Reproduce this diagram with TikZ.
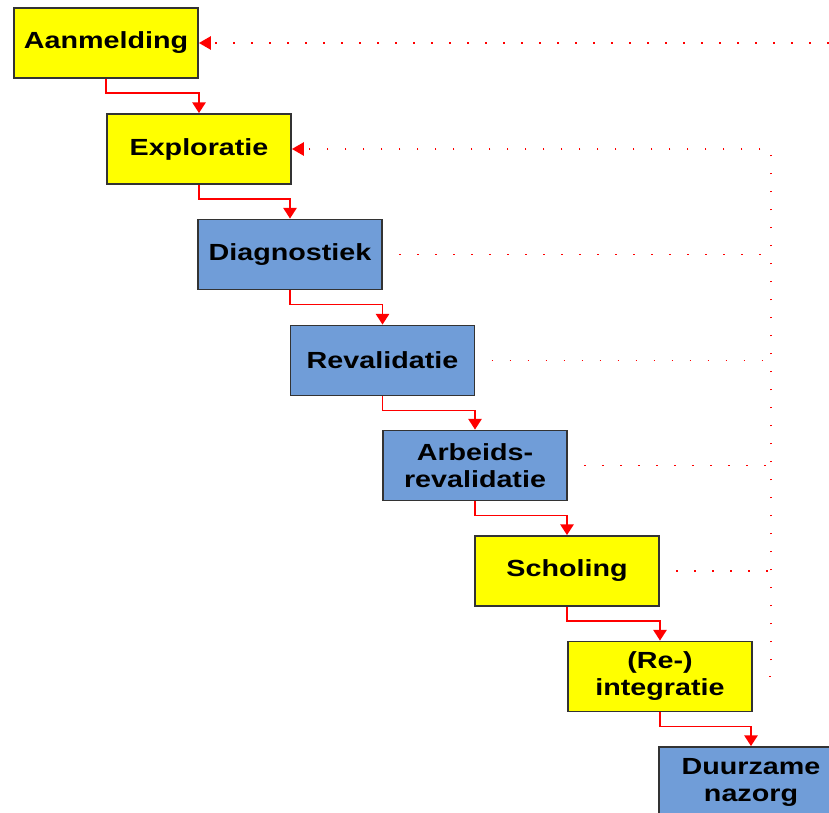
\documentclass[tikz,border=0pt]{standalone}
\usepackage{fontspec}
\setmainfont{Liberation Sans}[FakeStretch=1.23]
\usetikzlibrary{arrows.meta}

\definecolor{stageyellow}{RGB}{255,255,0}
\definecolor{stageblue}{RGB}{112,157,216}
\definecolor{stagerim}{RGB}{51,51,51}

\tikzset{
  stage/.style={draw=stagerim, line width=1.4pt, minimum width=138pt,
    minimum height=52.5pt, inner sep=0pt, align=center,
    font=\bfseries\fontsize{17.5}{20.25}\selectfont},
  yellowstage/.style={stage, fill=stageyellow},
  bluestage/.style={stage, fill=stageblue},
  flow/.style={red, line width=1.2pt, -{Triangle[width=10pt,length=8pt]}},
  back/.style={red, line width=1.3pt, dash pattern=on 1.3pt off 12.2pt,
    dash phase=1.3pt},
  backarrow/.style={back, -{Triangle[width=10pt,length=9pt]}}
}

\begin{document}
\begin{tikzpicture}[x=0.75pt,y=-0.75pt]
\useasboundingbox (0,0) rectangle (829,813);
\clip (0,0) rectangle (829,813);

% stages
\node[yellowstage] (aanm) at (106,43) {Aanmelding};
\node[yellowstage] (expl) at (199,149) {Exploratie};
\node[bluestage] (diag) at (290,254.5) {Diagnostiek};
\node[bluestage] (reval) at (382.5,360.5) {Revalidatie};
\node[bluestage] (arbeid) at (475,465.5) {Arbeids-\\revalidatie};
\node[yellowstage] (schol) at (567,571) {Scholing};
\node[yellowstage] (reint) at (660,676.5) {(Re-)\\integratie};
\node[bluestage] (nazorg) at (751,782) {Duurzame\\nazorg};

% main flow
\draw[flow] (aanm.south) -- ++(0,14) -| (expl.north);
\draw[flow] (expl.south) -- ++(0,14) -| (diag.north);
\draw[flow] (diag.south) -- ++(0,14) -| (reval.north);
\draw[flow] (reval.south) -- ++(0,14) -| (arbeid.north);
\draw[flow] (arbeid.south) -- ++(0,14) -| (schol.north);
\draw[flow] (schol.south) -- ++(0,14) -| (reint.north);
\draw[flow] (reint.south) -- ++(0,14) -| (nazorg.north);

% feedback
\coordinate (bus) at (771,149);
\coordinate (farright) at (845,43);
\draw[back] (diag.east) -- (diag.east -| bus);
\draw[back] (reval.east) -- (reval.east -| bus);
\draw[back] (arbeid.east) -- (arbeid.east -| bus);
\draw[back] (schol.east) -- (schol.east -| bus);
\draw[backarrow] (reint.east) -| (bus) -- (expl.east);
\draw[backarrow] (farright) -- (aanm.east);
\end{tikzpicture}
\end{document}
